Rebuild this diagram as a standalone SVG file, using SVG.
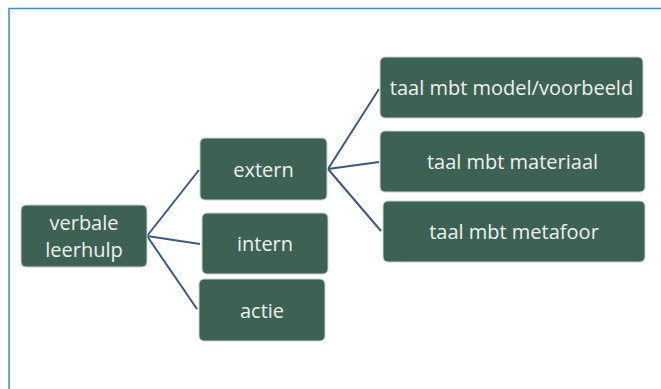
<svg xmlns="http://www.w3.org/2000/svg" width="661" height="389" viewBox="0 0 661 389">
<style>
.box{fill:#3d6153;stroke:#c9d3cf;stroke-width:1}
.t{font-family:"Open Sans","Liberation Sans",sans-serif;font-size:20px;fill:#eef1f0;text-anchor:middle;dominant-baseline:central}
.c{stroke:#3a5a7e;stroke-width:2;fill:none}
</style>
<rect width="661" height="389" fill="#ffffff"/>
<path d="M9 389 V8.5 H661" fill="none" stroke="#2a93c8" stroke-width="1.5"/>
<g id="connectors">
<line class="c" x1="147" y1="236" x2="199" y2="170"/>
<line class="c" x1="147" y1="236" x2="200" y2="244"/>
<line class="c" x1="147" y1="236" x2="197" y2="309"/>
<line class="c" x1="328" y1="169" x2="379" y2="89"/>
<line class="c" x1="328" y1="169" x2="379" y2="162"/>
<line class="c" x1="328" y1="169" x2="381" y2="231"/>
</g>
<g id="verbale">
<rect class="box" x="21" y="205" width="126" height="62" rx="5"/>
<text class="t" x="84" y="222">verbale</text>
<text class="t" x="84" y="249.5">leerhulp</text>
</g>
<g id="extern">
<rect class="box" x="200" y="138" width="127" height="62" rx="5"/>
<text class="t" x="263.5" y="169">extern</text>
</g>
<g id="intern">
<rect class="box" x="202" y="213" width="126" height="61" rx="5"/>
<text class="t" x="265" y="243.5">intern</text>
</g>
<g id="actie">
<rect class="box" x="199" y="279" width="126" height="62" rx="5"/>
<text class="t" x="262" y="310">actie</text>
</g>
<g id="model">
<rect class="box" x="380" y="57" width="263" height="61" rx="5"/>
<text class="t" x="511.5" y="87.5">taal mbt model/voorbeeld</text>
</g>
<g id="materiaal">
<rect class="box" x="380" y="131" width="265" height="61" rx="5"/>
<text class="t" x="512.5" y="161.5">taal mbt materiaal</text>
</g>
<g id="metafoor">
<rect class="box" x="383" y="201" width="262" height="61" rx="5"/>
<text class="t" x="514" y="231.5">taal mbt metafoor</text>
</g>
</svg>
